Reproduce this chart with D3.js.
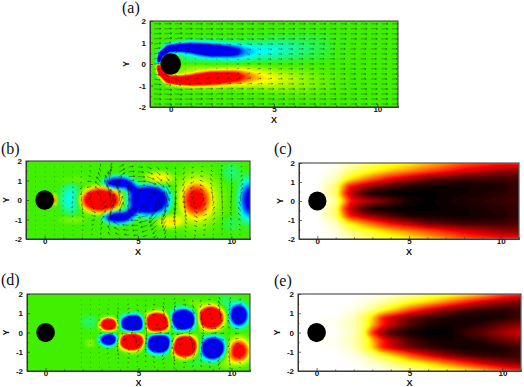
<!DOCTYPE html>
<html>

<head>
    <meta charset="utf-8">
    <script type="text/javascript" src="https://d3js.org/d3.v7.min.js"></script>
    <style type="text/css">
        html, body { margin: 0; padding: 0; background: #fff; }
        svg { display: block; }
        .tick text { font: bold 8px "Liberation Sans", sans-serif; fill: #111; }
        .tick line, .domain { stroke: #333; stroke-width: .7px; }
        .title { font: bold 9px "Liberation Sans", sans-serif; fill: #111; text-anchor: middle; }
        .tag { font: 16px "Liberation Serif", serif; fill: #111; }
    </style>
</head>

<body>
<div id="chart"></div>

<script type="text/javascript">
    var w = 524,
        h = 387;

    var ticksX = [0, 5, 10],
        ticksY = [-2, -1, 0, 1, 2],
        minorX = [1, 2, 3, 4, 6, 7, 8, 9],
        minorY = [-1.5, -0.5, 0.5, 1.5];

    // ridges of panel (a): x, y, amplitude, width
    var ridgeBlue = [[-0.62, 0.02, -1.6, 0.1], [-0.47, 0.45, -1.7, 0.15], [-0.1, 0.72, -1.7, 0.2], [0.5, 0.76, -1.8, 0.22],
        [1, 0.76, -1.8, 0.26], [2, 0.64, -1.8, 0.33], [3, 0.58, -1.25, 0.36], [3.6, 0.57, -0.72, 0.42], [4.2, 0.6, -0.52, 0.45],
        [5, 0.65, -0.44, 0.5], [6, 0.7, -0.3, 0.55], [7, 0.75, -0.17, 0.6], [8, 0.8, -0.04, 0.6]];
    var ridgeRed = [[-0.62, -0.02, 1.6, 0.1], [-0.47, -0.42, 1.7, 0.15], [-0.1, -0.72, 1.7, 0.2], [0.5, -0.76, 1.8, 0.22],
        [1, -0.76, 1.8, 0.26], [2, -0.66, 1.8, 0.33], [3, -0.6, 1.35, 0.36], [3.6, -0.6, 0.88, 0.42], [4.2, -0.62, 0.62, 0.45],
        [5, -0.7, 0.44, 0.5], [6, -0.75, 0.28, 0.55], [7, -0.8, 0.14, 0.6], [8, -0.85, 0.04, 0.6]];
    var wakeBlobsA = [[1.1, 0.3, 0.8, 0.28, -0.2], [1.1, -0.3, 0.8, 0.28, 0.2]];

    // vortices: x, y, rx, ry, amplitude
    var blobsB = [[1.4, 0.05, 0.58, 0.78, -0.45], [3, 0, 0.98, 0.58, 2.2], [0.54, 0, 0.07, 0.28, 1],
        [3.95, 0.88, 0.68, 0.3, -2.2], [3.95, -0.88, 0.68, 0.3, -2.2], [4.65, 0.62, 0.3, 0.25, -1.2], [4.65, -0.62, 0.3, 0.25, -1.2],
        [5.55, 0, 0.95, 0.66, -2.2], [5.75, 0, 1.2, 0.85, -0.4],
        [6.1, 1.12, 0.75, 0.32, 0.55], [6.7, -1.1, 0.7, 0.32, 0.55], [8.1, 0, 0.75, 0.85, 0.65], [8.2, 0, 1.25, 1.35, 0.45],
        [10.95, 0, 0.55, 1.05, -1.05], [10, 1.4, 0.5, 0.5, -0.22], [10, -1.2, 0.5, 0.4, -0.15],
        [1.5, 1, 0.7, 0.2, 0.13], [1.5, -1, 0.7, 0.2, 0.18]];
    var blobsD = [[3.4, 0.42, 0.48, 0.33, 1.6], [4.7, 0.47, 0.66, 0.45, -2], [6, 0.52, 0.68, 0.5, 2], [7.4, 0.67, 0.68, 0.55, -2],
        [8.9, 0.77, 0.68, 0.6, 1.8], [10.4, 0.9, 0.52, 0.6, -1.5],
        [3.4, -0.37, 0.48, 0.33, -1.6], [4.65, -0.47, 0.66, 0.45, 2], [6.1, -0.57, 0.68, 0.5, -2], [7.5, -0.72, 0.68, 0.55, 2],
        [9, -0.82, 0.68, 0.6, -1.8], [10.4, -0.95, 0.62, 0.65, 1.1],
        [2.4, 0.55, 0.5, 0.35, -0.2], [2.4, -0.55, 0.3, 0.25, 0.15], [9.7, 1.55, 0.45, 0.4, -0.2], [9.7, -1.5, 0.45, 0.4, 0.2],
        [8, 1.45, 0.5, 0.3, 0.12], [8, -1.5, 0.5, 0.3, -0.12]];

    // mean fields of panels (c), (e) and the mean velocity of (a), one row for each |y|
    var meanY = [0, 0.4, 0.8, 1.2, 1.6, 2];
    var meanXC = [-1, 0, 1, 1.4, 1.7, 2, 2.5, 3, 4, 5, 6, 8, 10, 11];
    var meanC = [
        [0, 0, 0.12, 0.38, 0.6, 0.68, 0.73, 0.78, 0.88, 0.97, 1, 0.96, 0.93, 0.92],
        [0, 0, 0.2, 0.55, 0.7, 0.8, 0.92, 0.98, 1, 1, 1, 0.98, 0.95, 0.93],
        [0, 0, 0.18, 0.45, 0.62, 0.68, 0.76, 0.82, 0.9, 0.96, 0.98, 0.98, 0.96, 0.93],
        [0, 0, 0.08, 0.2, 0.3, 0.36, 0.45, 0.53, 0.67, 0.76, 0.85, 0.92, 0.92, 0.9],
        [0, 0, 0.04, 0.1, 0.15, 0.19, 0.25, 0.3, 0.4, 0.48, 0.56, 0.7, 0.8, 0.82],
        [0, 0, 0.02, 0.05, 0.08, 0.1, 0.15, 0.2, 0.27, 0.33, 0.4, 0.55, 0.63, 0.65]];
    var meanXE = [-1, 1, 2, 2.5, 2.8, 3, 3.5, 4, 5, 6, 7, 8, 9, 10, 11];
    var meanE = [
        [0, 0, 0.08, 0.22, 0.48, 0.62, 0.82, 0.92, 0.98, 1, 1, 0.93, 0.87, 0.78, 0.72],
        [0, 0.02, 0.1, 0.2, 0.3, 0.42, 0.62, 0.75, 0.9, 0.97, 0.98, 0.97, 0.94, 0.87, 0.82],
        [0, 0.01, 0.08, 0.2, 0.3, 0.38, 0.62, 0.72, 0.85, 0.92, 0.96, 0.98, 0.98, 0.97, 0.92],
        [0, 0, 0.03, 0.08, 0.12, 0.15, 0.25, 0.35, 0.55, 0.7, 0.82, 0.9, 0.93, 0.94, 0.92],
        [0, 0, 0.01, 0.03, 0.05, 0.06, 0.1, 0.15, 0.28, 0.38, 0.5, 0.62, 0.73, 0.8, 0.85],
        [0, 0, 0, 0.01, 0.01, 0.02, 0.03, 0.05, 0.1, 0.18, 0.26, 0.33, 0.42, 0.55, 0.62]];
    var velX = [-1, 0, 1, 2, 3, 4, 5, 6, 8, 11],
        velY = [0, 0.4, 0.8, 1.2, 2];
    var velU = [
        [1, 0, -0.1, 0, 0.2, 0.4, 0.55, 0.65, 0.75, 0.85],
        [0.95, 0.2, 0, 0.1, 0.25, 0.4, 0.55, 0.65, 0.75, 0.85],
        [1, 0.9, 0.6, 0.5, 0.55, 0.6, 0.65, 0.7, 0.8, 0.85],
        [1.1, 1.2, 1.15, 1.1, 1.05, 1, 1, 1, 0.95, 0.95],
        [1, 1.05, 1.05, 1.05, 1, 1, 1, 1, 1, 1]];
    var velV = [
        [0, 0, 0, 0, 0, 0, 0, 0, 0, 0],
        [0.1, 0.5, -0.1, -0.1, -0.15, -0.1, -0.05, 0, 0, 0],
        [0.1, 0.3, -0.1, -0.15, -0.15, -0.1, -0.05, 0, 0, 0],
        [0.05, 0.15, 0, -0.05, -0.05, -0.03, 0, 0, 0, 0],
        [0, 0, 0, 0, 0, 0, 0, 0, 0, 0]];

    var rainbow = d3.scaleLinear()
        .domain([-1, -0.5, 0, 0.5, 1])
        .range(["#0000f0", "#00ffff", "#3ff000", "#ffff00", "#ff0000"])
        .clamp(true);
    var hot = d3.scaleLinear()
        .domain([0, 0.33, 0.67, 1])
        .range(["#ffffff", "#ffff00", "#ff0000", "#000000"])
        .clamp(true);

    function table(xs, ys, rows) {
        var lines = rows.map(function(r) { return d3.scaleLinear().domain(xs).range(r).clamp(true); });
        return function(x, y) {
            var a = Math.min(Math.abs(y), ys[ys.length - 1]);
            var i = Math.min(d3.bisectRight(ys, a), ys.length - 1);
            var t = (a - ys[i - 1]) / (ys[i] - ys[i - 1]);
            return lines[i - 1](x) * (1 - t) + lines[i](x) * t;
        };
    }

    function blobValue(list, x, y) {
        var s = 0;
        list.forEach(function(b) {
            var r = (x - b[0]) * (x - b[0]) / (b[2] * b[2]) + (y - b[1]) * (y - b[1]) / (b[3] * b[3]);
            s += b[4] * Math.exp(-Math.pow(r, 1.5));
        });
        return s;
    }

    function ridgeValue(pts, x, y) {
        var best = 0;
        for (var i = 0; i < pts.length - 1; i++) {
            var p = pts[i], q = pts[i + 1];
            var dx = q[0] - p[0], dy = q[1] - p[1];
            var t = Math.max(0, Math.min(1, ((x - p[0]) * dx + (y - p[1]) * dy) / (dx * dx + dy * dy)));
            var ex = x - p[0] - t * dx, ey = y - p[1] - t * dy;
            var wd = p[3] + t * (q[3] - p[3]), amp = p[2] + t * (q[2] - p[2]);
            var v = amp * Math.exp(-(ex * ex + ey * ey) / (wd * wd));
            if (Math.abs(v) > Math.abs(best)) best = v;
        }
        return best;
    }

    // velocity induced by the vortices, red turns anticlockwise
    function swirl(list, x, y) {
        var u = 0, v = 0;
        list.forEach(function(b) {
            var dx = x - b[0], dy = y - b[1];
            var r2 = dx * dx + dy * dy + 0.001;
            var a2 = b[2] * b[3];
            var q = Math.min(b[4], 2) * b[2] * b[3] * (1 - Math.exp(-r2 / a2)) / r2 * Math.exp(-Math.sqrt(r2) / 2);
            u += -q * dy;
            v += q * dx;
        });
        return [u, v];
    }

    var uMean = table(velX, velY, velU),
        vMean = table(velX, velY, velV);

    var panels = [
        {tag: "(a)", tagX: 122, tagY: 13, left: 150, right: 398, top: 21, bottom: 107, yLabel: 125, xLabel: 119,
            color: rainbow, lo: -1, hi: 1, blur: 0.7,
            field: function(x, y) { return ridgeValue(ridgeBlue, x, y) + ridgeValue(ridgeRed, x, y) + blobValue(wakeBlobsA, x, y); },
            gridX: d3.range(-0.8, 10.9, 0.5), gridY: d3.range(-1.86, 1.9, 0.233), scale: 6.5, ink: 0.5,
            vector: function(x, y) { return [uMean(x, y), vMean(x, y) * (y < 0 ? -1 : 1)]; }},
        {tag: "(b)", tagX: 1, tagY: 154, left: 26, right: 250, top: 161, bottom: 239, yLabel: 5, xLabel: 251,
            color: rainbow, lo: -1, hi: 1, blur: 0.8,
            field: function(x, y) { return blobValue(blobsB, x, y); },
            gridX: d3.range(-0.5, 10.9, 0.5), gridY: d3.range(-1.8, 1.9, 0.25), scale: 10, ink: 0.55,
            vector: function(x, y) { return swirl(blobsB, x, y); }},
        {tag: "(c)", tagX: 274, tagY: 154, left: 299, right: 519, top: 163, bottom: 239, yLabel: 279, xLabel: 251,
            color: hot, lo: 0, hi: 1, blur: 1.1,
            field: table(meanXC, meanY, meanC)},
        {tag: "(d)", tagX: 1, tagY: 285, left: 27, right: 250, top: 294, bottom: 371, yLabel: 5, xLabel: 381.5,
            color: rainbow, lo: -1, hi: 1, blur: 0.7,
            field: function(x, y) { return blobValue(blobsD, x, y); },
            gridX: d3.range(1.9, 10.9, 0.5), gridY: d3.range(-1.8, 1.9, 0.25), scale: 8, ink: 0.55,
            vector: function(x, y) { return swirl(blobsD, x, y); }},
        {tag: "(e)", tagX: 274, tagY: 286, left: 298, right: 521, top: 294, bottom: 371, yLabel: 276, xLabel: 381.5,
            color: hot, lo: 0, hi: 1, blur: 1.1,
            field: table(meanXE, meanY, meanE)}
    ];

    var svg = d3.select("#chart")
        .append("svg:svg")
        .attr("width", w)
        .attr("height", h);

    var defs = svg.append("defs");
    [0.7, 0.8, 1.1].forEach(function(s) {
        defs.append("filter").attr("id", "soft" + Math.round(s * 10))
            .attr("x", "-5%").attr("y", "-5%").attr("width", "110%").attr("height", "110%")
            .append("feGaussianBlur").attr("stdDeviation", s);
    });

    panels.forEach(function(p, k) {
        var x = d3.scaleLinear().domain([-1, 11]).range([p.left, p.right]);
        var y = d3.scaleLinear().domain([-2, 2]).range([p.bottom, p.top]);
        var g = svg.append("g");

        defs.append("clipPath").attr("id", "clip-" + k)
            .append("rect")
            .attr("x", p.left).attr("y", p.top)
            .attr("width", p.right - p.left).attr("height", p.bottom - p.top);

        // flood the field on a fine grid
        var nx = p.right - p.left + 1,
            ny = p.bottom - p.top + 1;
        var values = new Array(nx * ny);
        for (var j = 0; j < ny; j++) {
            for (var i = 0; i < nx; i++) {
                var v = p.field(x.invert(p.left + i), y.invert(p.top + j));
                values[j * nx + i] = Math.max(p.lo, Math.min(p.hi, v));
            }
        }
        var step = (p.hi - p.lo) / 64;
        var levels = d3.range(p.lo + step / 2, p.hi, step);
        var contours = d3.contours().size([nx, ny]).thresholds(levels)(values);
        var path = d3.geoPath(d3.geoTransform({
            point: function(a, b) { this.stream.point(p.left + a - 0.5, p.top + b - 0.5); }
        }));

        var plot = g.append("g").attr("clip-path", "url(#clip-" + k + ")");
        var flood = plot.append("g").attr("filter", "url(#soft" + Math.round(p.blur * 10) + ")");
        flood.append("rect")
            .attr("x", p.left - 4).attr("y", p.top - 4)
            .attr("width", p.right - p.left + 8).attr("height", p.bottom - p.top + 8)
            .attr("fill", p.color(p.lo));
        flood.selectAll("path")
            .data(contours)
            .enter().append("path")
            .attr("d", path)
            .attr("fill", function(d) { return p.color(d.value + step / 2); });

        // arrows
        if (p.vector) {
            var arrows = [];
            p.gridX.forEach(function(gx) {
                p.gridY.forEach(function(gy) {
                    arrows.push([gx, gy, p.vector(gx, gy)]);
                });
            });
            plot.append("g").selectAll("path")
                .data(arrows)
                .enter().append("path")
                .attr("d", function(d) {
                    var lx = d[2][0] * p.scale, ly = -d[2][1] * p.scale;
                    var len = Math.sqrt(lx * lx + ly * ly);
                    if (len > 14) { lx *= 14 / len; ly *= 14 / len; len = 14; }
                    if (len < 0.5) { lx = 0.5; ly = 0; len = 0.5; }
                    var x0 = x(d[0]), y0 = y(d[1]), x1 = x0 + lx, y1 = y0 + ly;
                    var hx = lx * 0.25, hy = ly * 0.25;
                    return "M" + x0 + "," + y0 + "L" + x1 + "," + y1 +
                        "M" + (x1 - hx - hy * 0.5) + "," + (y1 - hy + hx * 0.5) + "L" + x1 + "," + y1 +
                        "L" + (x1 - hx + hy * 0.5) + "," + (y1 - hy - hx * 0.5);
                })
                .attr("fill", "none")
                .attr("stroke", "#111")
                .attr("stroke-opacity", p.ink)
                .attr("stroke-width", 0.7);
        }

        // cylinder
        plot.append("ellipse")
            .attr("cx", x(0)).attr("cy", y(0))
            .attr("rx", x(0.5) - x(0)).attr("ry", y(0) - y(0.5))
            .attr("fill", "#000");

        // axes
        g.append("g")
            .attr("transform", "translate(0," + p.bottom + ")")
            .call(d3.axisBottom(x).tickValues(minorX).tickSize(-1.5).tickFormat(""));
        g.append("g")
            .attr("transform", "translate(" + p.left + ",0)")
            .call(d3.axisLeft(y).tickValues(minorY).tickSize(-1.5).tickFormat(""));
        var ax = g.append("g")
            .attr("transform", "translate(0," + p.bottom + ")")
            .call(d3.axisBottom(x).tickValues(ticksX).tickSizeInner(-3).tickSizeOuter(0).tickFormat(String));
        var ay = g.append("g")
            .attr("transform", "translate(" + p.left + ",0)")
            .call(d3.axisLeft(y).tickValues(ticksY).tickSizeInner(-3).tickSizeOuter(0).tickFormat(String));
        ax.selectAll(".tick text").attr("y", -0.5);
        ay.selectAll(".tick text").attr("x", -4);

        g.append("rect")
            .attr("x", p.left).attr("y", p.top)
            .attr("width", p.right - p.left).attr("height", p.bottom - p.top)
            .attr("fill", "none")
            .attr("stroke", "#333")
            .attr("stroke-width", 1);

        g.append("text").attr("class", "title")
            .attr("x", x(5)).attr("y", p.xLabel + 4)
            .text("X");
        g.append("text").attr("class", "title")
            .attr("transform", "translate(" + (p.yLabel + 3.5) + "," + y(0) + ") rotate(-90)")
            .text("Y");
        g.append("text").attr("class", "tag")
            .attr("x", p.tagX).attr("y", p.tagY)
            .text(p.tag);
    });
</script>
</body>

</html>
